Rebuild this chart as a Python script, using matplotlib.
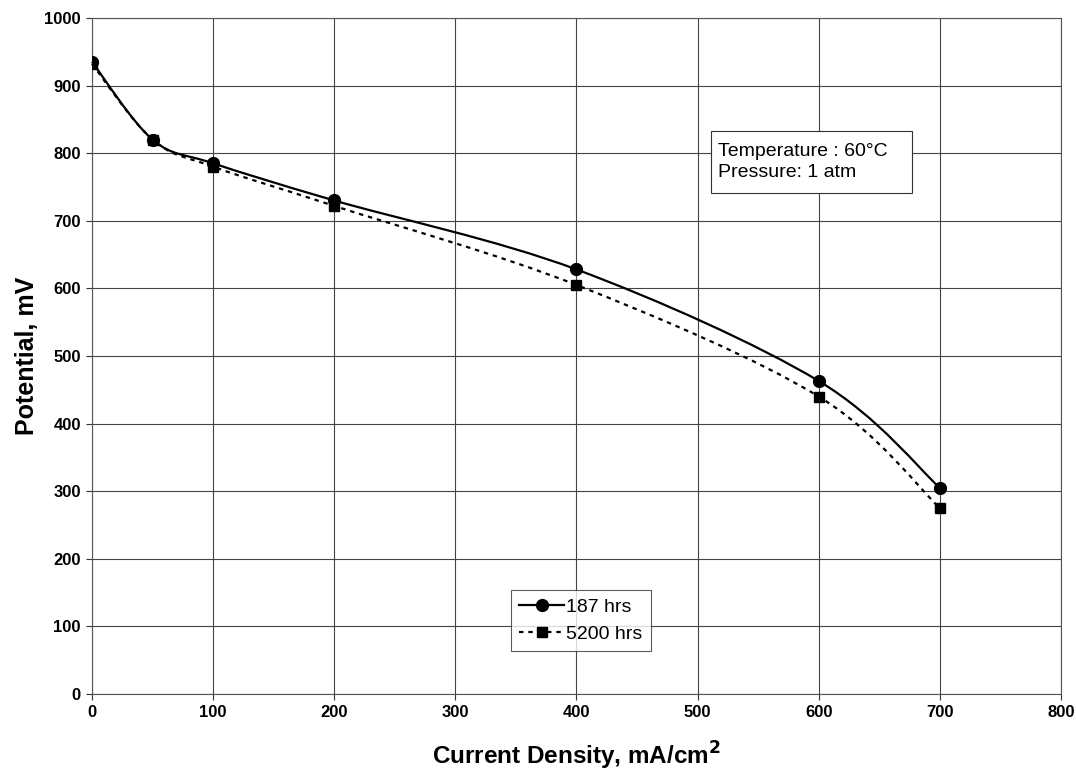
import numpy as np
import matplotlib
matplotlib.use('Agg')
import matplotlib.pyplot as plt
from matplotlib.path import Path
from matplotlib.patches import PathPatch, Rectangle
from matplotlib.lines import Line2D

plt.rcParams['font.family'] = ['Liberation Sans', 'DejaVu Sans']

# data
current = [0, 50, 100, 200, 400, 600, 700]
pot_187 = [935, 820, 785, 730, 628, 463, 305]
pot_5200 = [932, 820, 780, 722, 605, 440, 275]
x_ticks = [0, 100, 200, 300, 400, 500, 600, 700, 800]
y_ticks = [0, 100, 200, 300, 400, 500, 600, 700, 800, 900, 1000]


def smooth_path(ax, xs, ys):
    # Excel style smoothed line: cubic bezier segments built in display space
    pts = ax.transData.transform(np.column_stack([xs, ys]))
    verts = [pts[0]]
    codes = [Path.MOVETO]
    n = len(pts)
    for i in range(n - 1):
        p0 = pts[i - 1] if i > 0 else pts[i]
        p1 = pts[i]
        p2 = pts[i + 1]
        p3 = pts[i + 2] if i + 2 < n else pts[i + 1]
        c1 = p1 + (p2 - p0) / 6.0
        c2 = p2 - (p3 - p1) / 6.0
        verts += [c1, c2, p2]
        codes += [Path.CURVE4] * 3
    return Path(verts, codes)


fig = plt.figure(figsize=(10.76, 7.70), dpi=100)
ax = fig.add_axes([0.0855, 0.0987, 0.9005, 0.878])
ax.set_xlim(0, 800)
ax.set_ylim(0, 1000)
ax.set_xticks(x_ticks)
ax.set_yticks(y_ticks)
ax.grid(True, color='#444444', linewidth=0.8)
ax.set_axisbelow(True)
for s in ax.spines.values():
    s.set_color('#555555')
    s.set_linewidth(0.8)
ax.tick_params(direction='out', length=4, width=0.8, color='#333333',
               labelsize=12, pad=4)
for lab in ax.get_xticklabels() + ax.get_yticklabels():
    lab.set_fontweight('bold')

fig.canvas.draw()
for ys, ls in [(pot_187, '-'), (pot_5200, (0, (2, 2.2)))]:
    path = smooth_path(ax, current, ys)
    patch = PathPatch(path, facecolor='none', edgecolor='black', linewidth=1.6,
                      linestyle=ls, transform=None, clip_on=False)
    ax.add_artist(patch)

ax.plot(current, pot_187, linestyle='none', marker='o', markersize=8.5,
        color='black', zorder=5)
ax.plot(current, pot_5200, linestyle='none', marker='s', markersize=7,
        color='black', zorder=5)

ax.set_xlabel('Current Density, mA/cm$^\\mathbf{2}$', fontsize=17.5,
              fontweight='bold', labelpad=14)
ax.set_ylabel('Potential, mV', fontsize=18, fontweight='bold', labelpad=3.5)

handles = [Line2D([], [], color='black', lw=1.6, marker='o', markersize=8.5),
           Line2D([], [], color='black', lw=1.6, ls=(0, (2, 2.2)), marker='s',
                  markersize=7)]
leg = ax.legend(handles, ['187 hrs', '5200 hrs'], loc='upper left',
                bbox_to_anchor=(0.432, 0.154), borderaxespad=0, fontsize=14,
                frameon=True, fancybox=False, edgecolor='#333333',
                handlelength=2.3, handletextpad=0.1, borderpad=0.45,
                labelspacing=0.45)
leg.get_frame().set_linewidth(0.8)

ax.add_patch(Rectangle((0.639, 0.741), 0.207, 0.092, transform=ax.transAxes,
                       facecolor='white', edgecolor='#333333', linewidth=0.8,
                       zorder=6))
ax.text(0.646, 0.787, 'Temperature : 60°C\nPressure: 1 atm', transform=ax.transAxes,
        fontsize=14, va='center', ha='left', linespacing=1.3, zorder=7)

fig.savefig('out.png', dpi=100)
